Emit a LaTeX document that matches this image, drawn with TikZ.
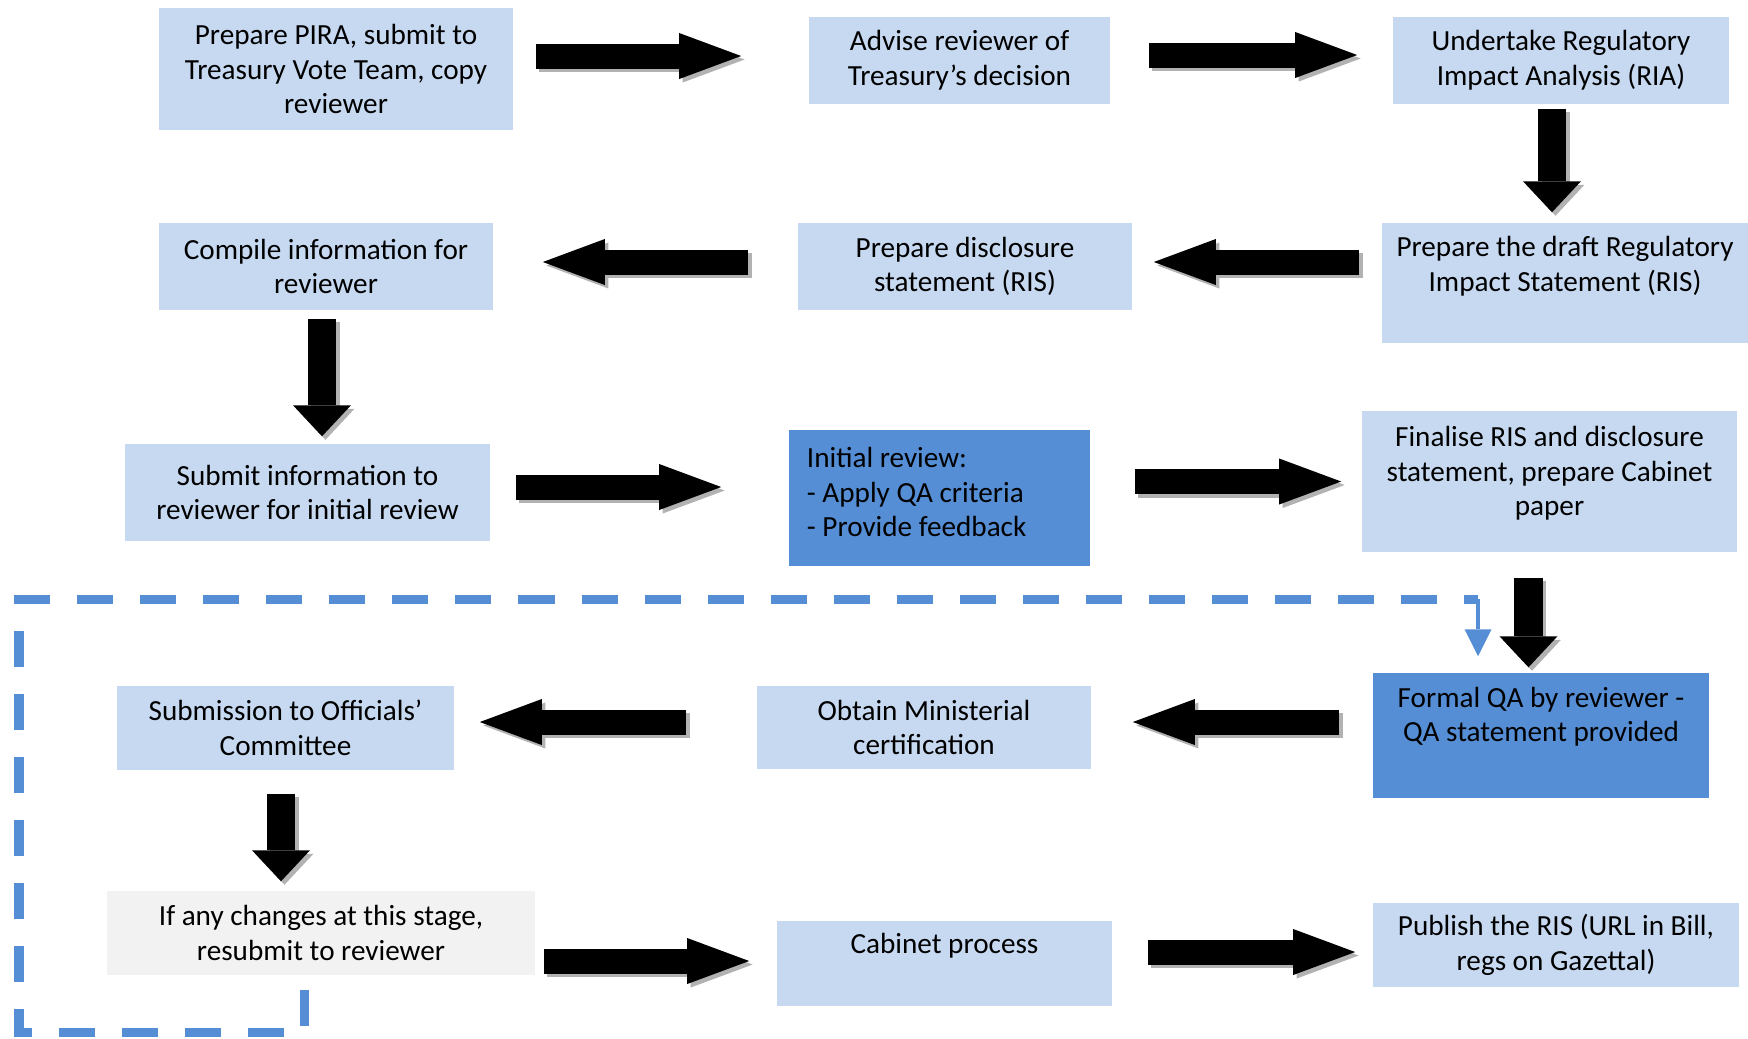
\documentclass[tikz,border=0pt]{standalone}
\usepackage{fontspec}
\setmainfont{Carlito}
\usepackage{tikz}
\usetikzlibrary{arrows.meta}
\definecolor{boxblue}{HTML}{C6D9F1}
\definecolor{qablue}{HTML}{558ED5}
\definecolor{greybox}{HTML}{F2F2F2}
% extra depth under the last line, pushes text to the top of a box
\newcommand{\padbelow}[1]{\rule[-#1]{0pt}{#1}}
% block arrow with a small shadow
\newcommand{\blk}[3]{
    \begin{scope}[transform canvas={shift={(0.035cm,-0.035cm)}}]
        \draw[#1, color=black!30] (#2) -- (#3);
    \end{scope}
    \draw[#1] (#2) -- (#3);}

\begin{document}
\begin{tikzpicture}[x=0.01cm, y=-0.01cm,
    box/.style={fill=boxblue, inner sep=0pt, align=center, font=\fontsize{8.3}{9.85}\selectfont},
    qabox/.style={box, fill=qablue},
    greyb/.style={box, fill=greybox},
    hblk/.style={line width=0.25cm, -{Triangle[length=0.62cm, width=0.46cm, line width=0pt]}},
    vblk/.style={line width=0.28cm, -{Triangle[length=0.31cm, width=0.58cm, line width=0pt]}},
    loopline/.style={color=qablue, line width=0.09cm, dash pattern=on 0.36cm off 0.27cm},
    looptip/.style={color=qablue, line width=0.04cm, -{Triangle[length=0.27cm, width=0.27cm, line width=0pt]}}]
    \useasboundingbox (0,0) rectangle (1748,1038);

    % row 1
    \node[box, minimum width=3.54cm, minimum height=1.22cm] (pira) at (336,69) {Prepare PIRA, submit to\\Treasury Vote Team, copy\\reviewer};
    \node[box, minimum width=3.01cm, minimum height=0.87cm] (advise) at (959.5,60.5) {Advise reviewer of\\Treasury’s decision};
    \node[box, minimum width=3.36cm, minimum height=0.87cm] (ria) at (1561,60.5) {Undertake Regulatory\\Impact Analysis (RIA)};

    % row 2
    \node[box, minimum width=3.66cm, minimum height=1.20cm] (draft) at (1565,283) {Prepare the draft Regulatory\\Impact Statement (RIS)\padbelow{0.38cm}};
    \node[box, minimum width=3.34cm, minimum height=0.87cm] (discl) at (965,266.5) {Prepare disclosure\\statement (RIS)};
    \node[box, minimum width=3.34cm, minimum height=0.87cm] (compile) at (326,266.5) {Compile information for\\reviewer};

    % row 3
    \node[box, minimum width=3.65cm, minimum height=0.97cm] (submit) at (307.5,492.5) {Submit information to\\reviewer for initial review};
    \node[qabox, minimum width=3.01cm, minimum height=1.36cm, inner xsep=0.18cm, text width=2.65cm, align=flush left] (initial) at (939.5,498) {Initial review:\\- Apply QA criteria\\- Provide feedback\padbelow{0.12cm}};
    \node[box, minimum width=3.75cm, minimum height=1.41cm] (finalise) at (1549.5,481.5) {Finalise RIS and disclosure\\statement, prepare Cabinet\\paper\padbelow{0.21cm}};

    % row 4
    \node[qabox, minimum width=3.36cm, minimum height=1.25cm] (formal) at (1541,735.5) {Formal QA by reviewer -\\QA statement provided\padbelow{0.42cm}};
    \node[box, minimum width=3.34cm, minimum height=0.83cm] (obtain) at (924,727.5) {Obtain Ministerial\\certification};
    \node[box, minimum width=3.37cm, minimum height=0.84cm] (officials) at (285.5,728) {Submission to Officials’\\Committee};

    % row 5
    \node[greyb, minimum width=4.28cm, minimum height=0.84cm] (ifany) at (321,933) {If any changes at this stage,\\resubmit to reviewer};
    \node[box, minimum width=3.35cm, minimum height=0.85cm] (cabinet) at (944.5,963.5) {Cabinet process\padbelow{0.41cm}};
    \node[box, minimum width=3.66cm, minimum height=0.84cm] (publish) at (1556,945) {Publish the RIS (URL in Bill,\\regs on Gazettal)};

    % arrows
    \blk{hblk, shorten <=0.22cm, shorten >=0.67cm}{[yshift=0.045cm]pira.east |- advise.west}{[yshift=0.045cm]advise.west}
    \blk{hblk, shorten <=0.38cm, shorten >=0.35cm}{[yshift=0.055cm]advise.east}{[yshift=0.055cm]ria.west |- advise.east}
    \blk{vblk, shorten <=0.04cm, shorten >=0.10cm}{[xshift=-0.09cm]ria.south}{[xshift=-0.09cm]ria.south |- draft.north}
    \blk{hblk, shorten <=0.22cm, shorten >=0.21cm}{[yshift=0.045cm]draft.west |- discl.east}{[yshift=0.045cm]discl.east}
    \blk{hblk, shorten <=0.49cm, shorten >=0.49cm}{[yshift=0.045cm]discl.west}{[yshift=0.045cm]compile.east}
    \blk{vblk, shorten <=0.08cm, shorten >=0.07cm}{[xshift=-0.04cm]compile.south}{[xshift=-0.04cm]compile.south |- submit.north}
    \blk{hblk, shorten <=0.25cm, shorten >=0.67cm}{[yshift=0.055cm]submit.east}{[yshift=0.055cm]submit.east -| initial.west}
    \blk{hblk, shorten <=0.44cm, shorten >=0.20cm}{initial.east |- finalise.west}{finalise.west}
    \blk{vblk, shorten <=0.25cm, shorten >=0.05cm}{[xshift=-0.21cm]finalise.south}{[xshift=-0.21cm]finalise.south |- formal.north}
    \blk{hblk, shorten <=0.33cm, shorten >=0.41cm}{[yshift=0.055cm]formal.west |- obtain.east}{[yshift=0.055cm]obtain.east}
    \blk{hblk, shorten <=0.70cm, shorten >=0.25cm}{[yshift=0.055cm]obtain.west}{[yshift=0.055cm]obtain.west -| officials.east}
    \blk{vblk, shorten <=0.23cm, shorten >=0.09cm}{[xshift=-0.045cm]officials.south}{[xshift=-0.045cm]officials.south |- ifany.north}
    \blk{hblk, shorten <=0.08cm, shorten >=0.27cm}{[yshift=0.025cm]ifany.east |- cabinet.west}{[yshift=0.025cm]cabinet.west}
    \blk{hblk, shorten <=0.35cm, shorten >=0.17cm}{[yshift=-0.07cm]cabinet.east |- publish.west}{[yshift=-0.07cm]publish.west}

    % resubmission loop back to formal QA
    \coordinate (loopbl) at (19,1032);
    \coordinate (looptr) at (1478,599);
    \draw[loopline] ([xshift=-0.16cm, yshift=-0.14cm]ifany.south) |- (loopbl) |- (looptr);
    \draw[looptip, shorten >=0.16cm] (looptr) -- (looptr |- formal.north);
\end{tikzpicture}
\end{document}
